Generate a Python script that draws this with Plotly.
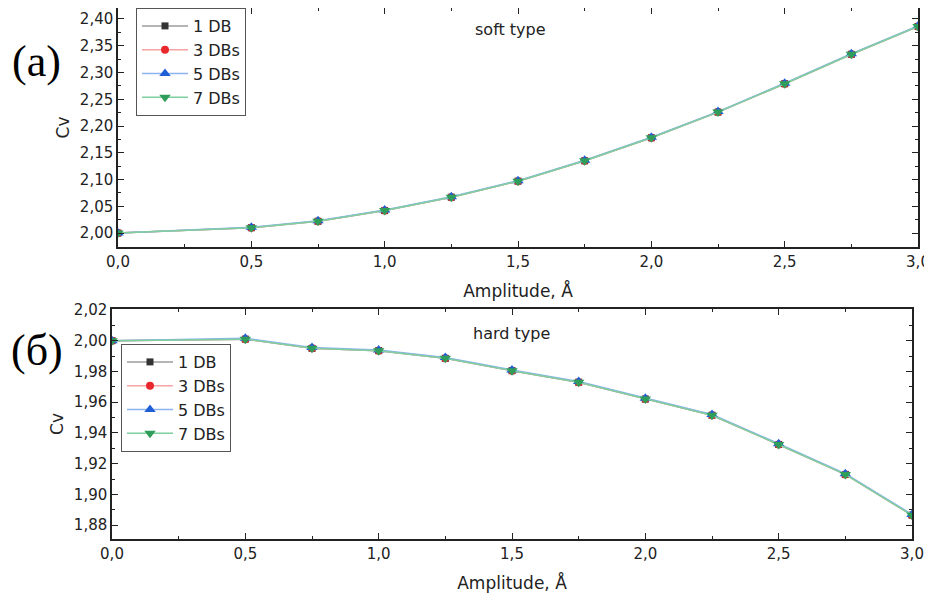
import plotly.graph_objects as go

# ---- data ----
amplitude = [0.0, 0.5, 0.75, 1.0, 1.25, 1.5, 1.75, 2.0, 2.25, 2.5, 2.75, 3.0]

soft_1db = [2.000, 2.010, 2.022, 2.042, 2.067, 2.097, 2.135, 2.178, 2.226, 2.279, 2.334, 2.386]
soft_3db = [2.000, 2.010, 2.022, 2.042, 2.067, 2.097, 2.135, 2.178, 2.226, 2.279, 2.334, 2.386]
soft_5db = [2.000, 2.011, 2.023, 2.043, 2.068, 2.098, 2.136, 2.179, 2.227, 2.280, 2.335, 2.387]
soft_7db = [2.000, 2.010, 2.022, 2.042, 2.067, 2.097, 2.135, 2.178, 2.226, 2.279, 2.334, 2.386]

hard_1db = [2.000, 2.001, 1.995, 1.9935, 1.9885, 1.9805, 1.973, 1.962, 1.9515, 1.9325, 1.913, 1.8865]
hard_3db = [2.000, 2.001, 1.995, 1.9935, 1.9885, 1.9805, 1.973, 1.962, 1.9515, 1.9325, 1.913, 1.8865]
hard_5db = [2.000, 2.0015, 1.9955, 1.994, 1.989, 1.981, 1.9735, 1.9625, 1.952, 1.933, 1.9135, 1.887]
hard_7db = [2.000, 2.001, 1.995, 1.9935, 1.9885, 1.9805, 1.973, 1.962, 1.9515, 1.9325, 1.913, 1.8865]

series_names = ["1 DB", "3 DBs", "5 DBs", "7 DBs"]
soft_series = [soft_1db, soft_3db, soft_5db, soft_7db]
hard_series = [hard_1db, hard_3db, hard_5db, hard_7db]

marker_symbols = ["square", "circle", "triangle-up", "triangle-down"]
marker_sizes = [7, 8, 10, 10]
marker_colors = ["#333333", "#e8282c", "#1f5fd6", "#2e9e5a"]
line_colors = ["#9c9c9c", "#f5a3a3", "#8db3f0", "#7fcf9f"]

FONT = "DejaVu Sans"
TXT = "#222222"

fig = go.Figure()

for name, ys, sym, ms, mc, lc in zip(series_names, soft_series, marker_symbols, marker_sizes, marker_colors, line_colors):
    fig.add_trace(go.Scatter(
        x=amplitude, y=ys, mode="lines+markers", name=name,
        line=dict(color=lc, width=1.5),
        marker=dict(symbol=sym, size=ms, color=mc),
        xaxis="x", yaxis="y", legend="legend",
    ))

for name, ys, sym, ms, mc, lc in zip(series_names, hard_series, marker_symbols, marker_sizes, marker_colors, line_colors):
    fig.add_trace(go.Scatter(
        x=amplitude, y=ys, mode="lines+markers", name=name,
        line=dict(color=lc, width=1.5),
        marker=dict(symbol=sym, size=ms, color=mc),
        xaxis="x2", yaxis="y2", legend="legend2",
    ))

# page body has an 8px default margin; lay out in window pixels
OFF = 8
W, H = 932 - OFF, 593 - OFF


def fx(p):
    return min(1.0, max(0.0, (p - OFF) / W))


def fy(p):
    return min(1.0, max(0.0, 1 - (p - OFF) / H))


axis_common = dict(
    showline=True, linecolor="#222222", linewidth=1.5, mirror="ticks",
    ticks="inside", ticklen=6, tickwidth=1.3, tickcolor="#222222",
    showgrid=False, zeroline=False, automargin=False,
    tickfont=dict(family=FONT, size=15, color=TXT),
    title_font=dict(family=FONT, size=17, color=TXT),
)
minor_common = dict(ticks="inside", ticklen=3.5, tickcolor="#222222", tickwidth=1.2)

legend_common = dict(
    xanchor="left", yanchor="top",
    bgcolor="white", bordercolor="#555555", borderwidth=1,
    font=dict(family=FONT, size=16, color=TXT), itemwidth=46,
    tracegroupgap=0,
)

fig.update_layout(
    width=W, height=H,
    margin=dict(l=0, r=0, t=0, b=0, autoexpand=False),
    paper_bgcolor="white", plot_bgcolor="white",
    separators=",.",
    font=dict(family=FONT, color=TXT),
    xaxis=dict(
        domain=[fx(118), fx(918)], anchor="y", range=[0, 3], dtick=0.5, tick0=0,
        tickformat=".1f", title=dict(text="Amplitude, Å", standoff=15),
        minor=dict(dtick=0.25, **minor_common),
        **axis_common,
    ),
    yaxis=dict(
        domain=[fy(247), fy(8)], anchor="x", range=[1.974, 2.4205], dtick=0.05, tick0=2.0,
        tickformat=".2f", title=dict(text="Cv", standoff=6),
        minor=dict(dtick=0.025, **minor_common),
        **axis_common,
    ),
    xaxis2=dict(
        domain=[fx(112), fx(912)], anchor="y2", range=[0, 3], dtick=0.5, tick0=0,
        tickformat=".1f", title=dict(text="Amplitude, Å", standoff=15),
        minor=dict(dtick=0.25, **minor_common),
        **axis_common,
    ),
    yaxis2=dict(
        domain=[fy(539), fy(309)], anchor="x2", range=[1.871, 2.0206], dtick=0.02, tick0=2.0,
        tickformat=".2f", title=dict(text="Cv", standoff=6),
        minor=dict(dtick=0.01, **minor_common),
        **axis_common,
    ),
    legend=dict(x=fx(136), y=fy(8), **legend_common),
    legend2=dict(x=fx(121), y=fy(344), **legend_common),
    annotations=[
        dict(text="soft type", xref="paper", yref="paper", x=fx(510), y=fy(30),
             xanchor="center", yanchor="middle",
             showarrow=False, font=dict(family=FONT, size=16, color=TXT)),
        dict(text="hard type", xref="paper", yref="paper", x=fx(512), y=fy(333),
             xanchor="center", yanchor="middle",
             showarrow=False, font=dict(family=FONT, size=16, color=TXT)),
        dict(text="(a)", xref="paper", yref="paper", x=fx(36), y=fy(61),
             xanchor="center", yanchor="middle",
             showarrow=False, font=dict(family="Liberation Serif", size=44, color="black")),
        dict(text="(б)", xref="paper", yref="paper", x=fx(37), y=fy(350),
             xanchor="center", yanchor="middle",
             showarrow=False, font=dict(family="Liberation Serif", size=44, color="black")),
    ],
)

fig.write_html("out.html")
